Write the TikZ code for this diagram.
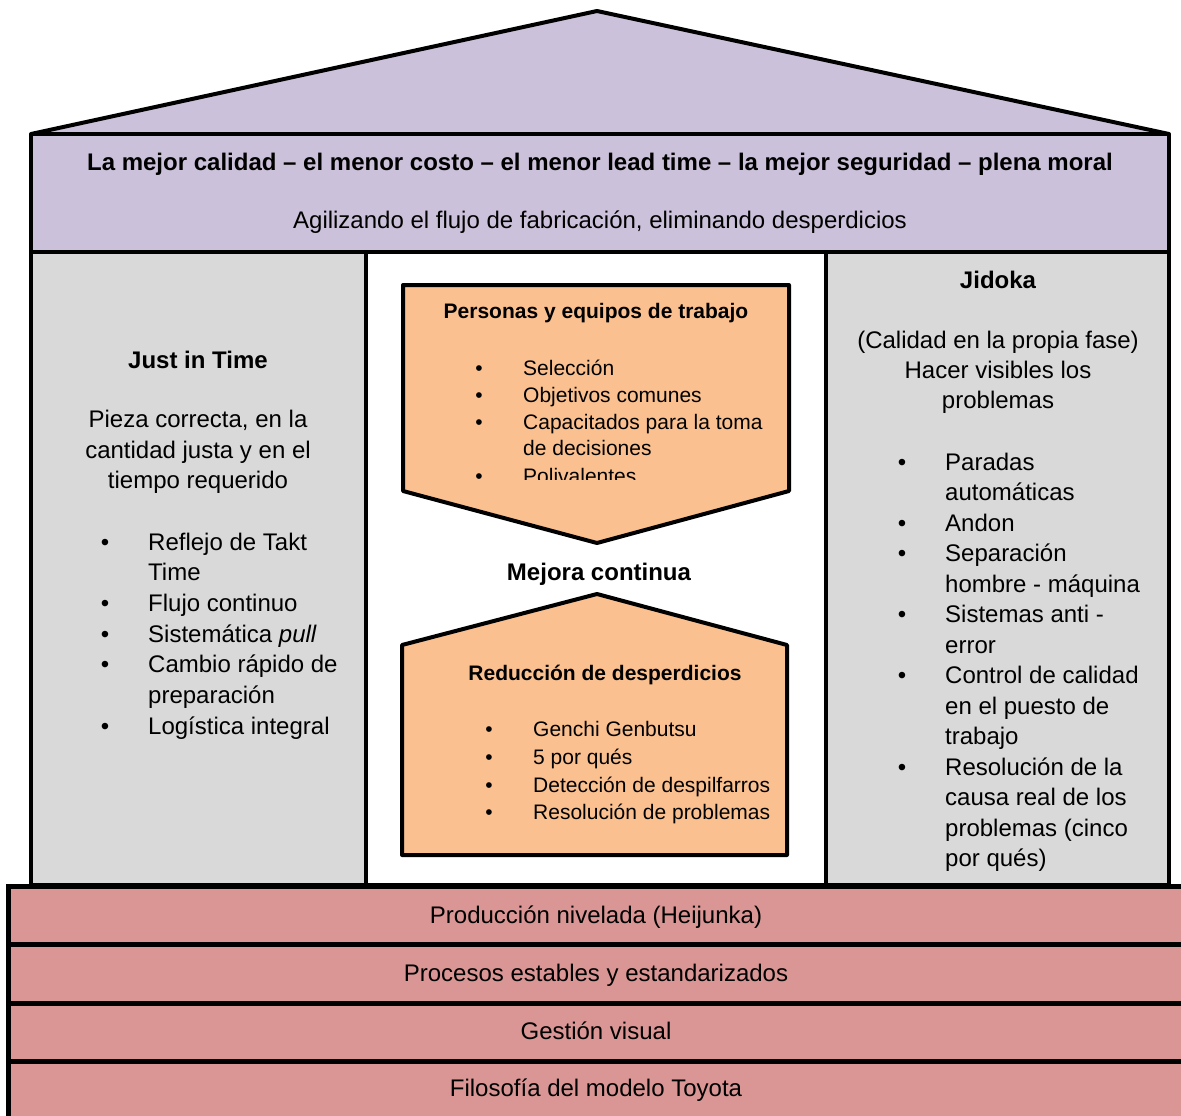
\documentclass[tikz,border=0pt]{standalone}
\usepackage{fontspec}
\setmainfont{Liberation Sans}
\definecolor{roof}{HTML}{CCC1DA}
\definecolor{pillar}{HTML}{D9D9D9}
\definecolor{core}{HTML}{FAC090}
\definecolor{base}{HTML}{D99694}
\begin{document}
\begin{tikzpicture}[x=1pt,y=-1pt,
  outline/.style={draw=black,line width=4pt,line join=round},
  txt/.style={inner sep=0pt,anchor=base,font=\fontsize{24}{29}\selectfont},
  txtb/.style={inner sep=0pt,anchor=base,font=\fontsize{24}{29}\selectfont\bfseries},
  item/.style={inner sep=0pt,anchor=base west,font=\fontsize{24}{29}\selectfont},
  dot/.style={inner sep=0pt,anchor=base,font=\fontsize{24}{29}\selectfont},
  stxt/.style={inner sep=0pt,anchor=base west,font=\fontsize{21}{25}\selectfont},
  stxtb/.style={inner sep=0pt,anchor=base,font=\fontsize{21}{25}\selectfont\bfseries},
  sdot/.style={inner sep=0pt,anchor=base,font=\fontsize{21}{25}\selectfont}]
\clip (0,0) rectangle (1181,1116);
\fill[white] (0,0) rectangle (1181,1116);

% roof and header beam
\fill[roof] (31,134) -- (597,11) -- (1169,134) -- cycle;
\draw[outline,fill=roof] (31,134) rectangle (1169,252);
\draw[outline] (31,134) -- (597,11) -- (1169,134);

% pillars and the open middle
\draw[outline,fill=pillar] (31,252) rectangle (366,885);
\draw[outline,fill=white] (366,252) rectangle (826,885);
\draw[outline,fill=pillar] (826,252) rectangle (1169,885);

% orange arrow boxes
\draw[outline,fill=core] (403,285) -- (789,285) -- (789,491) -- (597,543) -- (403,491) -- cycle;
\draw[outline,fill=core] (597,594) -- (787,645) -- (787,855) -- (402,855) -- (402,645) -- cycle;

% foundation bands
\draw[draw=black,line width=5pt,fill=base] (8,886) rectangle (1195,944);
\draw[draw=black,line width=5pt,fill=base] (8,944) rectangle (1195,1003);
\draw[draw=black,line width=5pt,fill=base] (8,1003) rectangle (1195,1061);
\draw[draw=black,line width=5pt,fill=base] (8,1061) rectangle (1195,1130);

% header texts
\node[txtb] (goal) at (600,170) {La mejor calidad – el menor costo – el menor lead time – la mejor seguridad – plena moral};
\node[txt] (flow) at (600,228) {Agilizando el flujo de fabricación, eliminando desperdicios};

% left pillar
\node[txtb] (jit) at (198,368) {Just in Time};
\node[txt] (jit1) at (198,427) {Pieza correcta, en la};
\node[txt] (jit2) at (198,458) {cantidad justa y en el};
\node[txt] (jit3) at (198,488) {tiempo requerido};
\foreach \y/\t/\b [count=\i] in {
  550/Reflejo de Takt/1, 580.7/Time/0, 611.4/Flujo continuo/1,
  642/{Sistemática \textit{pull}}/1, 672.8/Cambio rápido de/1,
  703.5/preparación/0, 734.2/Logística integral/1}{
  \node[item] (jitl\i) at (148,\y) {\t};
  \ifnum\b=1 \node[dot] (jitb\i) at (105,\y) {•}; \fi
}

% right pillar
\node[txtb] (jid) at (998,288) {Jidoka};
\node[txt] (jid1) at (998,348) {(Calidad en la propia fase)};
\node[txt] (jid2) at (998,378) {Hacer visibles los};
\node[txt] (jid3) at (998,408) {problemas};
\foreach \y/\t/\b [count=\i] in {
  470/Paradas/1, 500.5/automáticas/0, 531/Andon/1, 561.5/Separación/1,
  592/hombre - máquina/0, 622.5/Sistemas anti -/1, 653/error/0,
  683.5/Control de calidad/1, 714/en el puesto de/0, 744.5/trabajo/0,
  775/Resolución de la/1, 805.5/causa real de los/0,
  836/problemas (cinco/0, 866.5/por qués)/0}{
  \node[item] (jidl\i) at (945,\y) {\t};
  \ifnum\b=1 \node[dot] (jidb\i) at (902,\y) {•}; \fi
}

% upper orange box
\node[stxtb] (people) at (596,318) {Personas y equipos de trabajo};
\begin{scope}
\clip (403,285) rectangle (789,479);
\foreach \y/\t/\b [count=\i] in {
  375/Selección/1, 402/Objetivos comunes/1, 429.5/Capacitados para la toma/1,
  455.5/de decisiones/0, 483/Polivalentes/1}{
  \node[stxt] (pl\i) at (523,\y) {\t};
  \ifnum\b=1 \node[sdot] (pb\i) at (479,\y) {•}; \fi
}
\end{scope}

% middle caption
\node[txtb] (kaizen) at (599,580) {Mejora continua};

% lower orange box
\node[stxtb] (waste) at (605,680) {Reducción de desperdicios};
\foreach \y/\t [count=\i] in {
  736/Genchi Genbutsu, 764/5 por qués, 792/Detección de despilfarros,
  819.5/Resolución de problemas}{
  \node[stxt] (wl\i) at (533,\y) {\t};
  \node[sdot] (wb\i) at (489,\y) {•};
}

% foundation texts
\node[txt] (heij) at (596,923) {Producción nivelada (Heijunka)};
\node[txt] (std) at (596,981) {Procesos estables y estandarizados};
\node[txt] (vis) at (596,1039) {Gestión visual};
\node[txt] (phil) at (596,1096) {Filosofía del modelo Toyota};
\end{tikzpicture}
\end{document}
